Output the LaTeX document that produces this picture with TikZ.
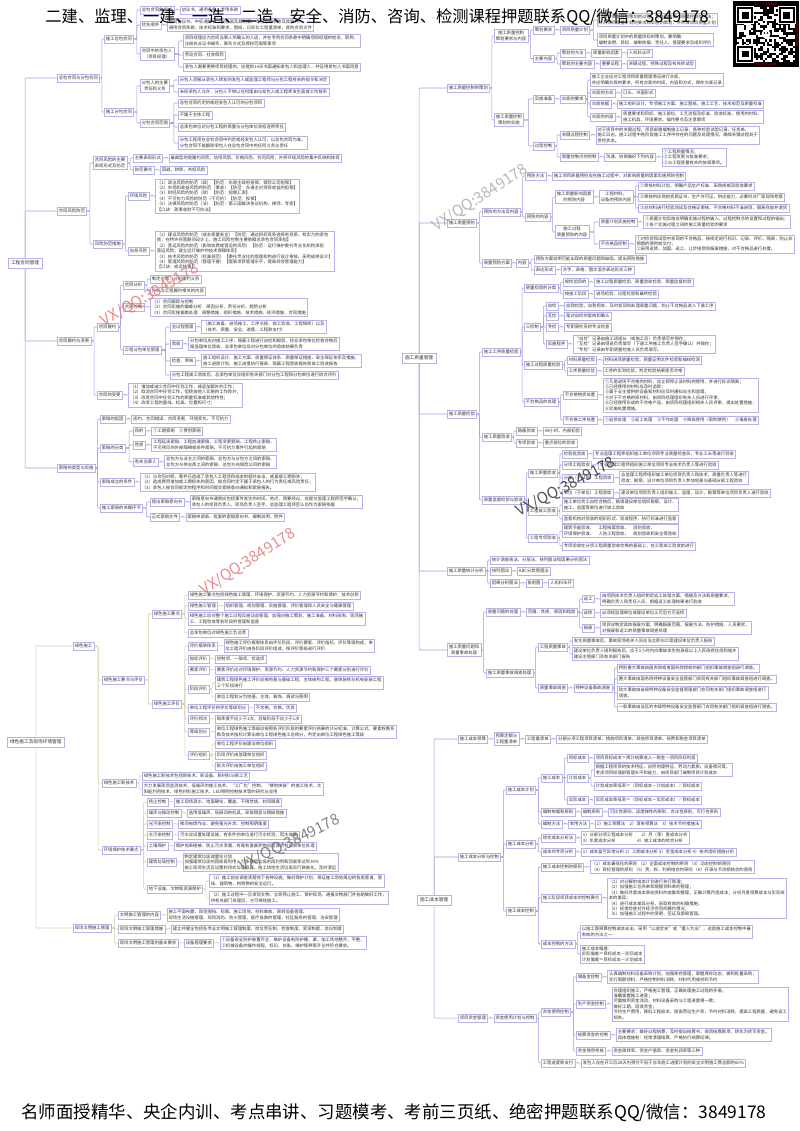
\documentclass[tikz,border=0pt]{standalone}
\usepackage{fontspec}
\usepackage{graphicx}
\setmainfont{Noto Sans CJK SC}
\usetikzlibrary{positioning,calc,backgrounds}
\newdimen\upx \upx=0.3mm
\definecolor{bc}{HTML}{B4B4E8}
\definecolor{lc}{HTML}{9C9CE0}
\definecolor{lg}{HTML}{D9CFA6}
\definecolor{tc}{HTML}{333333}
\definecolor{wred}{HTML}{E07070}
\newcommand\fsz{\fontsize{3.7}{4.6}\selectfont}
\newcommand\lk[3][lnk]{\foreach \kid in {#3}{\coordinate (m) at ($(#2.east)!.5!(\kid.west)$); \draw[#1] (#2.east) -- (#2.east -| m) |- (\kid.west);}}
\newcommand\rk[3][lnk]{\foreach \kid in {#3}{\draw[#1] (#2.center) |- (\kid.west);}}
\tikzset{
 bx/.style={draw=bc, fill=white, line width=0.35pt, inner xsep=1.4pt, inner ysep=1.5pt, font=\fsz, text=tc, align=left, anchor=west},
 lb/.style={bx, align=center},
 rt/.style={bx, inner xsep=2.4pt, inner ysep=2.6pt, font=\fontsize{4}{4.8}\selectfont},
 lnk/.style={draw=lc, line width=0.45pt, rounded corners=0.8pt},
 lnkg/.style={lnk, draw=lg},
 wm/.style={font=\fontsize{13}{13}\selectfont, opacity=0.8, inner sep=0},
}
\begin{document}
\begin{tikzpicture}[x=0.3mm,y=-0.3mm]
\useasboundingbox (0,0) rectangle (800,1131);
%================ Tree A
\node[rt] (A) at (8,263) {工程合同管理};
\node[bx] (A1) at (57,78) {总包合同与分包合同};
\node[bx] (A11) at (104,39) {施工总包合同};
\node[bx] (A111) at (140,10) {总包合同的组成};
\node[bx,right=1.8mm of A111] (A111a) {协议书、通用条款、专用条款};
\node[bx] (A112) at (140,25) {优先顺序};
\node[bx,right=1.8mm of A112] (A112a) {合同协议书、中标通知书、投标函及其附录、专用合同条款及其附件、\\通用合同条款、技术标准和要求、图纸、已标价工程量清单、其他合同文件};
\node[lb] (A113) at (140,54) {合同中的承包人\\（项目经理）};
\node[bx] (A113a) at (183,41) {项目经理应为合同当事人所确认的人选，并在专用合同条款中明确项目经理的姓名、职称、\\注册执业证书编号、联系方式及授权范围等事项};
\node[bx] (A113b) at (183,55) {劳动合同、社会保险};
\node[bx] (A113c) at (183,67) {承包人需要更换项目经理的，应提前14天书面通知发包人和监理人，并征得发包人书面同意};
\node[bx] (A12) at (104,112) {施工分包合同};
\node[lb] (A121) at (140,86) {分包人的主要\\责任和义务};
\node[bx] (A121a) at (178,80) {分包人须服从承包人转发的发包人或监理工程师与分包工程有关的指令和决定};
\node[bx] (A121b) at (178,92) {未经承包人允许，分包人不得以任何理由与发包人或工程师发生直接工作联系};
\node[bx] (A122) at (140,123) {分包合同范围};
\node[bx] (A122a) at (178,103) {总包合同约定的或经发包人认可的分包项目};
\node[bx] (A122b) at (178,115) {不属于主体工程};
\node[bx] (A122c) at (178,127) {总承包单位对分包工程的质量与分包单位承担连带责任};
\node[bx] (A122d) at (178,143) {分包工程须在总包合同中约定或经发包人认可，以总包合同为准，\\分包合同不能解除承包人在总包合同中的任何义务与责任};
\node[bx] (A2) at (57,211) {合同风险防范};
\node[lb] (A21) at (93,163) {合同风险的主要\\表现形式及防范};
\node[bx] (A211) at (133,158) {主要表现形式};
\node[bx,right=1.8mm of A211] (A211a) {最典型的是履约风险、信用风险、价格风险、合同风险，外界环境风险的集中反映和体现};
\node[bx] (A212) at (133,170) {防范要点};
\node[bx,right=1.8mm of A212] (A212a) {回避、转移、共担风险};
\node[bx] (A22) at (93,244) {风险防范措施};
\node[bx] (A221) at (128,196) {环境风险};
\node[bx,right=1.8mm of A221] (A221a) {（1）政治风险的防范（政）【防范：东道主政府担保；保险公司担保】\\（2）市场和收益风险的防范（事收）【防范：东道主对项目收益的担保】\\（3）财经风险的防范（财）【防范：短期汇率】\\（4）不可抗力风险的防范（不可抗）【防范：投保】\\（5）法律风险的防范（法）【防范：第三国解决争议机构、律师、专家】\\【口诀：政事收财不可抗法】};
\node[bx] (A222) at (128,251) {自身风险};
\node[bx,right=1.8mm of A222] (A222a) {（1）建设风险的防范（成本质量安全）【防范：通过招标竞争选择有资质、有实力的承包\\商；在特许经营期间设计上，施工风险控制主要依据总承包合同承担】\\（2）营运风险的防范（影响收费或营运的风险）【防范：运行维护委托专业化机构承担\\营运风险；建立运行维护的技术保障体系】\\（3）技术风险的防范（标准规范）【委托专业化的监理机构进行设计审核、采用成熟设计】\\（4）管理风险的防范（管理不善）【提高项目管理水平，提高综合管理能力】\\【口诀：成运技管】};
\node[bx] (A3) at (57,341) {合同履约与变更};
\node[bx] (A31) at (97,327) {合同履约};
\node[bx] (A311) at (123,285) {合同分析};
\node[bx] (A311a) at (150,279) {制定对策，分析履约义务};
\node[bx] (A311b) at (150,291) {分析与工程履约相关的内容};
\node[bx] (A312) at (123,307) {合同控制};
\node[bx,right=1.8mm of A312] (A312a) {（1）合同跟踪与控制\\（2）合同实施的偏差分析\quad 原因分析、责任分析、趋势分析\\（3）合同实施偏差处理\quad 调整措施、组织措施、技术措施、经济措施、合同措施};
\node[bx] (A313) at (123,350) {工程分包单位管理};
\node[bx] (A3131) at (170,327) {全过程管理};
\node[bx,right=1.8mm of A3131] (A3131a) {（施工准备、进场施工、工序交接、竣工验收、工程保修）以及\\（技术、质量、安全、进度、工程款支付）};
\node[bx] (A3132) at (170,344) {验收};
\node[bx,right=1.8mm of A3132] (A3132a) {分包单位应对施工工序、隐蔽工程进行自检和报验，经总承包单位检查合格后\\报监理单位验收，总承包单位应对分包单位的验收结果负责};
\node[bx] (A3133) at (170,361) {检查、审核};
\node[bx,right=1.8mm of A3133] (A3133a) {施工组织设计、施工方案、质量保证体系、质量保证措施、安全保证体系及措施、\\施工进度计划、施工进度执行报表、隐蔽工程验收报告和竣工验收报告};
\node[bx] (A3134) at (170,375) {分包工程竣工验收后，总承包单位应组织有关部门对分包工程和分包单位进行综合评价};
\node[bx] (A32) at (97,395) {合同的变更};
\node[bx,right=1.8mm of A32] (A32a) {（1）增加或减少合同中任何工作，或追加额外的工作；\\（2）取消合同中任何工作，但转由他人实施的工作除外；\\（3）改变合同中任何工作的质量标准或其他特性；\\（4）改变工程的基线、标高、位置和尺寸；};
\node[bx] (A4) at (57,468) {索赔的类型与实施};
\node[bx] (A41) at (100,419) {索赔的起因};
\node[bx,right=1.8mm of A41] (A41a) {违约、合同错误、合同变更、环境变化、不可抗力};
\node[bx] (A42) at (100,448) {索赔的分类};
\node[bx] (A421) at (133,431) {目的};
\node[bx,right=1.8mm of A421] (A421a) {①工期索赔\quad ②费用索赔};
\node[bx] (A422) at (133,445) {性质};
\node[bx,right=1.8mm of A422] (A422a) {工程延误索赔、工程加速索赔、工程变更索赔、工程终止索赔、\\不可预见的外部障碍或条件索赔、不可抗力事件引起的索赔};
\node[bx] (A423) at (133,462) {有关当事人};
\node[bx,right=1.8mm of A423] (A423a) {总包方与业主之间的索赔、总包方与分包方之间的索赔、\\总包方与供应商之间的索赔、总包方向保险公司的索赔};
\node[bx] (A43) at (100,482) {索赔成立的条件};
\node[bx,right=1.8mm of A43] (A43a) {（1）与合同对照，事件已造成了承包人工程项目成本的额外支出，或直接工期损失；\\（2）造成费用增加或工期损失的原因，按合同约定不属于承包人的行为责任或风险责任；\\（3）承包人按合同规定的程序和时间提交索赔意向通知和索赔报告。};
\node[bx] (A44) at (100,508) {施工索赔的关键环节};
\node[bx] (A441) at (150,502) {提出索赔意向书};
\node[bx,right=1.8mm of A441] (A441a) {索赔意向书通常应包括事件发生的时间、地点、简要经过，应提交监理工程师签字确认，\\承包人的项目负责人、现场负责人签字，总监理工程师签认后作为索赔依据};
\node[bx] (A442) at (150,517) {正式索赔文件};
\node[bx,right=1.8mm of A442] (A442a) {索赔申请表、批复的索赔意向书、编制说明、附件};
%================ Tree B
\node[rt] (B) at (7,742) {绿色施工及现场环境管理};
\node[bx] (B1) at (73,646) {绿色施工};
\node[bx] (B11) at (102,680) {绿色施工要点与评价};
\node[bx] (B111) at (152,614) {绿色施工要点};
\node[bx] (B111a) at (188,595) {绿色施工要点包括绿色施工管理、环境保护、资源节约、人力资源节约和保护、技术创新};
\node[bx] (B111b) at (188,606) {绿色施工管理};
\node[bx,right=1.8mm of B111b] (B111bb) {组织管理、规划管理、实施管理、评价管理和人员安全与健康管理};
\node[bx] (B111c) at (188,619) {绿色施工应对整个施工过程实施动态管理，加强对施工策划、施工准备、材料采购、现场施\\工、工程验收等各阶段的管理和监督};
\node[bx] (B111d) at (188,633) {总承包单位对绿色施工负总责};
\node[bx] (B112) at (152,704) {绿色施工评价};
\node[bx] (B1121) at (188,646) {评价框架体系};
\node[bx,right=1.8mm of B1121] (B1121a) {绿色施工评价框架体系由评价阶段、评价要素、评价指标、评价等级构成，单\\位工程评价由各阶段评价组成，按评价等级进行评价};
\node[bx] (B1122) at (188,659) {指标评价};
\node[bx,right=1.8mm of B1122] (B1122a) {控制项、一般项、优选项};
\node[bx] (B1123) at (188,670) {要素评价};
\node[bx,right=1.8mm of B1123] (B1123a) {要素评价应对环境保护、资源节约、人力资源节约和保护三个要素分别进行评价};
\node[bx] (B1124) at (188,689) {阶段评价};
\node[bx] (B1124a) at (215,683) {建筑工程绿色施工评价应按地基与基础工程、主体结构工程、装饰装修与机电安装工程\\三个阶段进行};
\node[bx] (B1124b) at (215,697) {单位工程划分为地基、主体、装饰、调试与照明};
\node[bx] (B1125) at (188,708) {单位工程评价的评价等级划分};
\node[bx,right=1.8mm of B1125] (B1125a) {不合格、合格、优良};
\node[bx] (B1126) at (188,719) {评价频次};
\node[bx,right=1.8mm of B1126] (B1126a) {每季度不应少于1次，且每阶段不应少于1次};
\node[bx] (B1127) at (188,732) {等级划分};
\node[bx,right=1.8mm of B1127] (B1127a) {单位工程绿色施工等级应按照各评价阶段的要素评价结果的计分标准、计算公式、要素权重系\\数及技术指标计算出单位工程绿色施工总得分，判定出单位工程绿色施工等级};
\node[bx] (B1128) at (188,755) {评价组织};
\node[bx] (B1128a) at (215,744) {单位工程评价由建设单位组织};
\node[bx] (B1128b) at (215,755) {阶段评价由监理单位组织};
\node[bx] (B1128c) at (215,766) {批次评价由施工单位组织};
\node[bx] (B12) at (102,783) {绿色施工新技术};
\node[bx] (B12a) at (142,776) {绿色施工新技术包括新技术、新设备、新材料与新工艺};
\node[bx] (B12b) at (142,789) {大力发展现场监测技术、低噪声的施工技术、“工厂化”控制、“楼地快装”的施工技术、太\\阳能利用技术、绿色材料施工技术、LED照明控制技术等的研究与应用};
\node[bx] (B13) at (102,850) {环境保护技术要点};
\node[bx] (B131) at (147,802) {扬尘控制};
\node[bx,right=1.8mm of B131] (B131a) {施工现场洒水、地面硬化、覆盖、不得焚烧、封闭隔离};
\node[bx] (B132) at (147,813) {噪声与振动控制};
\node[bx,right=1.8mm of B132] (B132a) {选用低噪声、低振动的机具，采取隔音与隔振措施};
\node[bx] (B133) at (147,824) {光污染控制};
\node[bx,right=1.8mm of B133] (B133a) {夜间电焊作业、避免强光外泄、控制照明角度};
\node[bx] (B134) at (147,835) {水污染控制};
\node[bx,right=1.8mm of B134] (B134a) {污水应设置处理设施，有条件的单位进行污水检测、雨水收集};
\node[bx] (B135) at (147,846) {土壤保护};
\node[bx,right=1.8mm of B135] (B135a) {保护地表植被、防止污水渗漏，有毒有害废弃物应回收交有资质单位处理};
\node[bx] (B136) at (147,862) {建筑垃圾控制};
\node[bx,right=1.8mm of B136] (B136a) {制定建筑垃圾减量化计划\\加强建筑垃圾的回收再利用，力争建筑垃圾的再利用和回收率达到30\%\\施工现场生活区设置封闭式垃圾容器，施工场地生活垃圾实行袋装化，及时清运};
\node[bx] (B137) at (147,889) {地下设施、文物和资源保护};
\node[bx] (B137a) at (209,881) {（1）施工前应调查清楚地下各种设施，做好保护计划，保证施工场地周边的各类管道、管\\线、建筑物、构筑物的安全运行。};
\node[bx] (B137b) at (209,898) {（2）施工过程中一旦发现文物，立即停止施工，保护现场，通报文物部门并协助做好工作，\\待有关部门处理后，方可继续施工。};
\node[bx] (B2) at (73,928) {现场文明施工管理};
\node[bx] (B21) at (118,915) {文明施工管理的内容};
\node[bx,right=1.8mm of B21] (B21a) {施工平面布置、现场围挡、标牌、施工场地、材料堆放、周转设备管理、\\现场生活设施管理、现场消防、防火管理、医疗急救的管理、社区服务的管理、治安管理};
\node[bx] (B22) at (118,929) {现场文明施工管理措施};
\node[bx,right=1.8mm of B22] (B22a) {建立并健全包括各专业文明施工管理制度、岗位责任制、检查制度、奖惩制度、会议制度};
\node[bx] (B23) at (118,943) {现场文明施工管理的基本要求};
\node[bx,right=1.8mm of B23] (B231) {设备管理要求};
\node[bx,right=1.8mm of B231] (B231a) {①设备安全防护装置齐全，维护设备有防护棚、罩，加工场地整齐、平整，\\②机械设备的操作规程、标识、台账、维护保养等齐全并符合要求。};
%================ Tree C
\node[rt] (C) at (402,358) {施工质量管理};
\node[bx] (C1) at (447,88) {施工质量控制的策划};
\node[lb] (C11) at (494,36) {施工质量控制\\策划要求与内容};
\node[bx] (C111) at (533,30) {策划要求};
\node[bx,right=1.8mm of C111] (C1111) {项目质量计划};
\node[bx] (C1111a) at (597,20) {①项目质量控制策划的过程、文件和依据，质量控制的方法；\\②对项目质量计划的要求和实施的策划，并形成项目质量计划};
\node[bx] (C1111b) at (597,40) {项目质量计划中的质量目标的策划，要明确：\\编制说明、目标、编制依据、责任人、管理要求及组织评价};
\node[bx] (C112) at (533,58.5) {主要内容};
\node[bx] (C1121) at (560,53) {策划的方法};
\node[bx,right=1.8mm of C1121] (C1121a) {质量影响因素};
\node[bx,right=1.8mm of C1121a] (C1121b) {人机料法环};
\node[bx] (C1122) at (560,64) {策划的主要内容};
\node[bx,right=1.8mm of C1122] (C1122a) {重要过程};
\node[bx,right=1.8mm of C1122a] (C1122b) {关键过程、特殊过程及有关的试验};
\node[lb] (C12) at (494,120) {施工质量控制\\策划的实施};
\node[bx] (C121) at (533,99) {实施准备};
\node[bx,right=1.8mm of C121] (C1211) {交底的要求};
\node[bx] (C1211a) at (590,80) {施工企业应对工程项目质量管理情况进行交底，\\并应明确交底的要求，所有交底的时间、内容和方式，保存交底记录};
\node[bx] (C1211b) at (590,93) {交底的方式};
\node[bx,right=1.8mm of C1211b] (C1211bb) {口头、书面形式};
\node[bx] (C1211c) at (590,104) {交底依据};
\node[bx,right=1.8mm of C1211c] (C1211cc) {施工组织设计、专项施工方案、施工图纸、施工工艺、技术规范及质量标准};
\node[bx] (C1211d) at (590,117) {交底的内容};
\node[bx,right=1.8mm of C1211d] (C1211dd) {质量要求和目标、施工部位、工艺流程及标准、验收标准、使用的材料、\\施工机具、环境要求、操作要点及注意事项};
\node[bx] (C122) at (533,146) {过程控制};
\node[bx] (C1221) at (560,135) {关键过程控制};
\node[bx,right=1.8mm of C1221] (C1221a) {对于项目中的关键过程，项目部需编制施工记录、各种检验试验记录、任务单、\\施工日志，施工过程中各阶段施工工序中存在的问题及处理情况，确保关键过程处于\\受控状态。};
\node[bx] (C1222) at (560,157) {质量控制点的控制};
\node[bx,right=1.8mm of C1222] (C1222a) {沟通、协商做好下列内容};
\node[bx,right=1.8mm of C1222a] (C1222b) {①工程质量情况；\\②工程变更与批准要求；\\③与工程质量有关的协调事项。};
\node[bx] (C2) at (447,223) {施工质量预防};
\node[bx] (C21) at (482,212) {预防的方法及内容};
\node[bx] (C211) at (525,176) {预防方法};
\node[bx,right=1.8mm of C211] (C211a) {施工项目质量预控应在施工过程中，对影响质量的因素实施预防控制};
\node[bx] (C212) at (525,217) {预防的内容};
\node[lb] (C2121) at (555,197) {施工质量影响因素\\的预防内容};
\node[lb] (C21211) at (599,197) {工程材料、\\设备的预防内容};
\node[bx] (C21211a) at (638,186) {①审核材料计划，明确产品生产标准、采购规格及验收要求};
\node[bx] (C21211b) at (638,197) {②审核供应商的资质证书、生产许可证、供应能力，必要时对厂家现场考察};
\node[bx] (C21211c) at (638,208) {③对材料进行检验测试及合格证审核，不合格材料不准进场，隔离存放并退货};
\node[lb] (C2122) at (555,232) {施工过程\\质量预防的内容};
\node[bx] (C21221) at (599,222) {质量计划实施控制};
\node[bx,right=1.8mm of C21221] (C21221a) {①质量计划实施应明确实施过程的输入、过程控制点的设置和过程的输出；\\②各个实施过程之间的施工质量检验的要求};
\node[bx] (C21222) at (599,244) {不合格品控制};
\node[bx,right=1.8mm of C21222] (C21222a) {①对检验和试验中发现的不合格品，按规定进行标识、记录、评价、隔离，防止非\\预期的使用或交付；\\②采用返修、加固、返工、让步接受和报废措施，对不合格品进行处置。};
\node[bx] (C22) at (482,263) {质量预防方案};
\node[bx] (C221) at (516,263) {内容};
\node[bx] (C221a) at (534,259) {预防方案说明可能出现的质量问题和缺陷，提出预防措施};
\node[bx] (C221b) at (534,270) {表达形式};
\node[bx,right=1.8mm of C221b] (C221bb) {文字、表格、图文混合表达形式三种};
\node[bx] (C3) at (447,414) {施工质量检验};
\node[bx] (C31) at (482,352) {施工工序质量检验};
\node[bx] (C311) at (524,288) {质量检验的分类};
\node[bx] (C3111) at (563,282) {按检验目的};
\node[bx,right=1.8mm of C3111] (C3111a) {施工过程质量检验、质量验收检验、质量监督检验};
\node[bx] (C3112) at (563,294) {按施工阶段};
\node[bx,right=1.8mm of C3112] (C3112a) {进场检验、过程检验和最终检验};
\node[bx] (C312) at (524,327) {三检制};
\node[bx] (C3121) at (546,306) {自检};
\node[bx,right=1.8mm of C3121] (C3121a) {自我检验、自我把关，及时发现和处理质量问题，防止不合格品进入下道工序};
\node[bx] (C3122) at (546,316) {互检};
\node[bx,right=1.8mm of C3122] (C3122a) {是对自检的复核和确认};
\node[bx] (C3123) at (546,327) {专检};
\node[bx,right=1.8mm of C3123] (C3123a) {专职质检员的专业检查};
\node[bx] (C3124) at (546,344) {实施程序};
\node[bx,right=1.8mm of C3124] (C3124a) {“自检”记录由施工班组长（或施工员）负责填写并保存；\\“互检”记录由领班负责填写（下道工序施工负责人签字确认）并保存；\\“专检”记录由专职质量检查人员负责填写。};
\node[bx] (C313) at (524,365) {施工过程质量检验};
\node[bx] (C3131) at (567,360) {材料质量检验};
\node[bx,right=1.8mm of C3131] (C3131a) {材料进场质量检验，质量证明文件检验和抽样检测};
\node[bx] (C3132) at (567,371) {工序质量检验};
\node[bx,right=1.8mm of C3132] (C3132a) {工序的实测检验，判定检验结果是否合格};
\node[bx] (C314) at (524,402) {不合格品的处理};
\node[bx] (C3141) at (563,395) {不合格物资处置};
\node[bx,right=1.8mm of C3141] (C3141a) {①凡是进场不合格的材料，应立即停止该材料的使用，并进行标识隔离；\\②已经使用的材料应及时追踪；\\③属于业主提供的设备和材料应及时通知业主和监理；\\④对于不合格的原材料，由项目经理组织有关人员进行评审；\\⑤已经使用形成的不合格产品，由项目经理组织相关人员评审，提出处置措施；\\⑥实施处置措施。};
\node[bx] (C3142) at (563,420) {不合格工序处置};
\node[bx,right=1.8mm of C3142] (C3142a) {①返修处理\quad ②返工处理\quad ③不作处理\quad ④降级使用（限制使用）\quad ⑤报废处理};
\node[bx] (C32) at (482,437) {施工质量验收};
\node[bx] (C321) at (516,431) {隐蔽验收};
\node[bx,right=1.8mm of C321] (C321a) {48小时、内部初验};
\node[bx] (C322) at (516,443) {专项验收};
\node[bx,right=1.8mm of C322] (C322a) {重点部位的验收};
\node[bx] (C33) at (482,500) {质量监督检验与验收};
\node[bx] (C331) at (528,473) {施工质量验收};
\node[bx] (C3311) at (562,454) {检验批验收};
\node[bx,right=1.8mm of C3311] (C3311a) {专业监理工程师组织施工单位项目专业质量检查员、专业工长等进行验收};
\node[bx] (C3312) at (562,465) {分项工程验收};
\node[bx,right=1.8mm of C3312] (C3312a) {专业监理工程师组织施工单位项目专业技术负责人等进行验收};
\node[bx] (C3313) at (562,478) {分部（子分部）工程验收};
\node[bx,right=1.8mm of C3313] (C3313a) {总监理工程师组织施工单位项目负责人和技术、质量负责人等进行\\验收；勘察、设计单位项目负责人参加地基与基础分部工程验收};
\node[bx] (C3314) at (562,493) {单位（子单位）工程验收};
\node[bx,right=1.8mm of C3314] (C3314a) {建设单位项目负责人组织施工、监理、设计、勘察等单位项目负责人进行验收};
\node[bx] (C332) at (528,511) {工程竣工验收};
\node[bx] (C332a) at (562,505) {施工单位完工自检合格后，报请建设单位组织勘察、设计、\\施工、监理等单位进行竣工验收};
\node[bx] (C332b) at (562,519) {监督机构对验收的组织形式、验收程序、执行标准进行监督};
\node[bx] (C333) at (528,538) {工程专项验收};
\node[bx] (C333a) at (562,531) {建筑节能验收、\quad 工程档案验收、\quad 消防验收、\\环境保护验收、\quad 人防工程验收、\quad 规划验收和安全等验收};
\node[bx] (C333b) at (562,546) {专项验收在分项工程质量验收合格的基础上，在工程竣工验收前进行};
\node[bx] (C4) at (447,571) {施工质量统计分析};
\node[bx] (C41) at (490,560) {统计调查表法、分层法、排列图法和因果分析图法};
\node[bx] (C42) at (490,571) {排列图法};
\node[bx,right=1.8mm of C42] (C42a) {ABC分类管理法};
\node[bx] (C43) at (490,583) {因果分析图法};
\node[bx,right=1.8mm of C43] (C43a) {鱼刺图};
\node[bx,right=1.8mm of C43a] (C43b) {人机料法环};
\node[lb] (C5) at (447,650) {施工质量问题和\\质量事故处理};
\node[bx] (C51) at (486,612) {质量问题的处理};
\node[bx,right=1.8mm of C51] (C51a) {范围、性质、原因和程度};
\node[bx] (C511) at (582,599) {返工};
\node[bx,right=1.8mm of C511] (C511a) {由项目技术负责人组织制定返工处理方案、措施及方法和质量要求，\\明确负责人和责任人员，根据返工处理结果进行验收};
\node[bx] (C512) at (582,613) {返修};
\node[bx,right=1.8mm of C512] (C512a) {必须经监理单位或建设单位认可后方可返修};
\node[bx] (C513) at (582,628) {报废};
\node[bx,right=1.8mm of C513] (C513a) {项目应制定具体报废方案，明确报废范围、报废方法、防护措施、人员要求，\\对报废和返工的质量事故调查处理};
\node[bx] (C52) at (486,673) {施工质量事故调查处理};
\node[bx] (C521) at (538,647) {工程质量事故};
\node[bx] (C521a) at (572,641) {发生质量事故后，事故现场有关人员应当立即向工程建设单位负责人报告};
\node[bx] (C521b) at (572,654) {建设单位负责人接到报告后，应于1小时内向事故发生地县级以上人民政府住房和城乡\\建设主管部门及有关部门报告};
\node[bx] (C522) at (538,688) {质量事故调查};
\node[bx,right=1.8mm of C522] (C522a) {特种设备事故调查};
\node[bx] (C522b1) at (617,668) {特别重大事故由国务院或者国务院授权的部门组织事故调查组进行调查。};
\node[bx] (C522b2) at (617,679) {重大事故由国务院特种设备安全监管部门会同有关部门组织事故调查组进行调查。};
\node[bx] (C522b3) at (617,693) {较大事故由省级特种设备安全监督管理部门会同有关部门组织事故调查组进行\\调查。};
\node[bx] (C522b4) at (617,707) {一般事故由设区的市级特种设备安全监管部门会同有关部门组织调查组进行调查。};
%================ Tree D
\node[rt] (D) at (417,900) {施工成本管理};
\node[bx] (D1) at (458,739) {施工成本预算};
\node[lb,right=1.8mm of D1] (D11) {预算定额与\\工程量清单};
\node[bx,right=1.8mm of D11] (D111) {工程量清单};
\node[bx,right=1.8mm of D111] (D111a) {分部分项工程项目清单、措施项目清单、其他项目清单、规费和税金项目清单};
\node[bx] (D2) at (458,857) {施工成本分析与控制};
\node[bx] (D21) at (506,790) {施工成本计划};
\node[bx] (D211) at (541,778) {施工成本};
\node[bx] (D2111) at (567,758) {目标成本};
\node[bx,right=1.8mm of D2111] (D2111a) {项目目标成本＝预计结算收入－税金－项目目标利润};
\node[bx] (D2112) at (567,778) {计划成本};
\node[bx] (D2112a) at (594,770) {根据工程项目的技术特征、自然地理特征、劳动力素质、设备情况等，\\考虑项目经理部管理水平和能力，由项目部门编制项目计划成本};
\node[bx] (D2112b) at (594,786) {计划成本降低率＝（目标成本－计划成本）／目标成本};
\node[bx] (D2113) at (567,800) {实际成本};
\node[bx,right=1.8mm of D2113] (D2113a) {实际成本降低率＝（目标成本－实际成本）／目标成本};
\node[bx] (D212) at (541,812) {编制依据和原则};
\node[bx,right=1.8mm of D212] (D212a) {编制原则};
\node[bx,right=1.8mm of D212a] (D212b) {可比性原则、适度弹性的原则、合法性原则、可行性原则};
\node[bx] (D213) at (541,824) {编制方法};
\node[bx,right=1.8mm of D213] (D213a) {常用方法};
\node[bx,right=1.8mm of D213a] (D213b) {1）施工预算法\quad 2）清单预算法\quad 3）技术节约措施法};
\node[bx] (D22) at (506,844) {施工成本分析};
\node[bx] (D221) at (541,838) {综合成本分析法};
\node[bx,right=1.8mm of D221] (D221a) {1）分部分项工程成本分析\qquad 2）月（季）度成本分析\\3）年度成本分析\qquad\qquad\quad 4）竣工成本的综合分析};
\node[bx] (D222) at (541,852) {成本的专项分析};
\node[bx,right=1.8mm of D222] (D222a) {1）成本盈亏异常分析\ 2）工期成本分析\ 3）资金成本分析\ 4）技术组织措施分析};
\node[bx] (D23) at (506,911) {施工成本控制};
\node[bx] (D231) at (541,867) {施工成本控制的原则};
\node[bx,right=1.8mm of D231] (D231a) {（1）成本最低化的原则\ （2）全面成本控制的原则\ （3）动态控制的原则\\（4）目标管理的原则\ （5）责、权、利相结合的原则\ （6）开源与节流相结合的原则};
\node[bx] (D232) at (541,898) {施工阶段项目成本的控制要点};
\node[bx,right=1.8mm of D232] (D232a) {（1）对分解的成本计划进行执行管理；\\（2）加强施工任务单和限额领料单的管理；\\（3）做好月度成本原始资料的收集和整理，正确计算月度成本，分析月度预算成本与实际成\\本的差异；\\（4）进行成本差异分析，采取有效的纠偏措施；\\（5）经常检查对外经济合同的履约情况；\\（6）加强施工过程中的变更、签证及索赔管理。};
\node[bx] (D233) at (541,944) {成本控制的方法};
\node[bx] (D233a) at (580,932) {以施工图预算控制成本支出，采用“以收定支”或“量入为出”，这是施工成本控制中最\\有效的方法之一};
\node[bx] (D233b) at (580,954) {施工成本偏差：\\实际偏差＝目标成本－实际成本\\计划偏差＝目标成本－计划成本};
\node[bx] (D3) at (458,1018) {项目资金管理};
\node[bx,right=1.8mm of D3] (D31) {资金使用计划与控制};
\node[bx] (D311) at (541,1012) {资金使用控制};
\node[bx] (D3111) at (576,977) {储备金控制};
\node[bx,right=1.8mm of D3111] (D3111a) {认真编制材料设备采购计划，加强库存管理，掌握库存动态，做到批量采购；\\实行限额领料，严格控制材料消耗，材料代用或材料节约};
\node[bx] (D3112) at (576,1004) {生产资金控制};
\node[bx,right=1.8mm of D3112] (D3112a) {合理组织施工，严格施工管理，正确处理施工过程的矛盾，\\准确掌握施工进度；\\尽量做到资金流动，材料设备采购与工程进度相一致；\\做好工期，回收资金；\\节约生产费用，降低工程成本，提高劳动生产率，节约材料消耗，提高工程质量，避免返工\\损失。};
\node[bx] (D3113) at (576,1035) {结算资金的控制};
\node[bx,right=1.8mm of D3113] (D3113a) {主要要求：做好过程结算，及时提出结算书，收回结算款项，转化为货币资金。\\具体措施有：经常清理结算，严格执行结算纪律。};
\node[bx] (D3114) at (576,1051) {资金使用考核};
\node[bx,right=1.8mm of D3114] (D3114a) {资金周转率、资金产值率、资金利润率等三种};
\node[bx] (D312) at (541,1063) {工程进度款支付};
\node[bx,right=1.8mm of D312] (D312a) {发包人应在开工后28天内预付不低于当年施工进度计划的安全文明施工费总额的60\%};
%================ connectors
\begin{scope}[on background layer]
\fill[white] (0,0) rectangle (800,1131);
% A
\rk{A}{A1,A2,A3,A4}
\lk{A1}{A11,A12}
\lk{A11}{A111,A112,A113}
\lk{A111}{A111a} \lk{A112}{A112a}
\lk{A113}{A113a,A113b,A113c}
\lk{A12}{A121,A122}
\lk{A121}{A121a,A121b}
\lk{A122}{A122a,A122b,A122c,A122d}
\lk{A2}{A21,A22}
\lk{A21}{A211,A212}
\lk{A211}{A211a} \lk{A212}{A212a}
\lk{A22}{A221,A222}
\lk{A221}{A221a} \lk{A222}{A222a}
\lk{A3}{A31,A32}
\lk{A31}{A311,A312,A313}
\lk{A311}{A311a,A311b}
\lk{A312}{A312a}
\lk{A313}{A3131,A3132,A3133,A3134}
\lk{A3131}{A3131a} \lk{A3132}{A3132a} \lk{A3133}{A3133a}
\lk{A32}{A32a}
\lk{A4}{A41,A42,A43,A44}
\lk{A41}{A41a}
\lk{A42}{A421,A422,A423}
\lk{A421}{A421a} \lk{A422}{A422a} \lk{A423}{A423a}
\lk{A43}{A43a}
\lk{A44}{A441,A442}
\lk{A441}{A441a} \lk{A442}{A442a}
% B
\rk[lnkg]{B}{B1,B2}
\lk[lnkg]{B1}{B11,B12,B13}
\lk[lnkg]{B11}{B111,B112}
\lk[lnkg]{B111}{B111a,B111b,B111c,B111d}
\lk[lnkg]{B111b}{B111bb}
\lk[lnkg]{B112}{B1121,B1122,B1123,B1124,B1125,B1126,B1127,B1128}
\lk[lnkg]{B1121}{B1121a} \lk[lnkg]{B1122}{B1122a} \lk[lnkg]{B1123}{B1123a}
\lk[lnkg]{B1124}{B1124a,B1124b}
\lk[lnkg]{B1125}{B1125a} \lk[lnkg]{B1126}{B1126a} \lk[lnkg]{B1127}{B1127a}
\lk[lnkg]{B1128}{B1128a,B1128b,B1128c}
\lk[lnkg]{B12}{B12a,B12b}
\lk[lnkg]{B13}{B131,B132,B133,B134,B135,B136,B137}
\lk[lnkg]{B131}{B131a} \lk[lnkg]{B132}{B132a} \lk[lnkg]{B133}{B133a} \lk[lnkg]{B134}{B134a} \lk[lnkg]{B135}{B135a} \lk[lnkg]{B136}{B136a}
\lk[lnkg]{B137}{B137a,B137b}
\lk[lnkg]{B2}{B21,B22,B23}
\lk[lnkg]{B21}{B21a} \lk[lnkg]{B22}{B22a} \lk[lnkg]{B23}{B231} \lk[lnkg]{B231}{B231a}
% C
\rk{C}{C1,C2,C3,C4,C5}
\lk{C1}{C11,C12}
\lk{C11}{C111,C112}
\lk{C111}{C1111} \lk{C1111}{C1111a,C1111b}
\lk{C112}{C1121,C1122}
\lk{C1121}{C1121a} \lk{C1121a}{C1121b}
\lk{C1122}{C1122a} \lk{C1122a}{C1122b}
\lk{C12}{C121,C122}
\lk{C121}{C1211} \lk{C1211}{C1211a,C1211b,C1211c,C1211d}
\lk{C1211b}{C1211bb} \lk{C1211c}{C1211cc} \lk{C1211d}{C1211dd}
\lk{C122}{C1221,C1222}
\lk{C1221}{C1221a} \lk{C1222}{C1222a} \lk{C1222a}{C1222b}
\lk{C2}{C21,C22}
\lk{C21}{C211,C212}
\lk{C211}{C211a}
\lk{C212}{C2121,C2122}
\lk{C2121}{C21211} \lk{C21211}{C21211a,C21211b,C21211c}
\lk{C2122}{C21221,C21222}
\lk{C21221}{C21221a} \lk{C21222}{C21222a}
\lk{C22}{C221} \lk{C221}{C221a,C221b} \lk{C221b}{C221bb}
\lk{C3}{C31,C32,C33}
\lk{C31}{C311,C312,C313,C314}
\lk{C311}{C3111,C3112} \lk{C3111}{C3111a} \lk{C3112}{C3112a}
\lk{C312}{C3121,C3122,C3123,C3124}
\lk{C3121}{C3121a} \lk{C3122}{C3122a} \lk{C3123}{C3123a} \lk{C3124}{C3124a}
\lk{C313}{C3131,C3132} \lk{C3131}{C3131a} \lk{C3132}{C3132a}
\lk{C314}{C3141,C3142} \lk{C3141}{C3141a} \lk{C3142}{C3142a}
\lk{C32}{C321,C322} \lk{C321}{C321a} \lk{C322}{C322a}
\lk{C33}{C331,C332,C333}
\lk{C331}{C3311,C3312,C3313,C3314}
\lk{C3311}{C3311a} \lk{C3312}{C3312a} \lk{C3313}{C3313a} \lk{C3314}{C3314a}
\lk{C332}{C332a,C332b}
\lk{C333}{C333a,C333b}
\lk{C4}{C41,C42,C43} \lk{C42}{C42a} \lk{C43}{C43a} \lk{C43a}{C43b}
\lk{C5}{C51,C52}
\lk{C51}{C51a} \lk{C51a}{C511,C512,C513}
\lk{C511}{C511a} \lk{C512}{C512a} \lk{C513}{C513a}
\lk{C52}{C521,C522}
\lk{C521}{C521a,C521b}
\lk{C522}{C522a} \lk{C522a}{C522b1,C522b2,C522b3,C522b4}
% D
\rk{D}{D1,D2,D3}
\lk{D1}{D11} \lk{D11}{D111} \lk{D111}{D111a}
\lk{D2}{D21,D22,D23}
\lk{D21}{D211,D212,D213}
\lk{D211}{D2111,D2112,D2113}
\lk{D2111}{D2111a} \lk{D2112}{D2112a,D2112b} \lk{D2113}{D2113a}
\lk{D212}{D212a} \lk{D212a}{D212b}
\lk{D213}{D213a} \lk{D213a}{D213b}
\lk{D22}{D221,D222} \lk{D221}{D221a} \lk{D222}{D222a}
\lk{D23}{D231,D232,D233} \lk{D231}{D231a} \lk{D232}{D232a}
\lk{D233}{D233a,D233b}
\lk{D3}{D31} \lk{D31}{D311,D312}
\lk{D311}{D3111,D3112,D3113,D3114}
\lk{D3111}{D3111a} \lk{D3112}{D3112a} \lk{D3113}{D3113a} \lk{D3114}{D3114a}
\lk{D312}{D312a}
\end{scope}
%================ watermarks
\node[wm, text=wred, rotate=30] (W1) at (150,295) {VX/QQ:3849178};
\node[wm, text=black!35, rotate=33] (W2) at (480,198) {VX/QQ:3849178};
\node[wm, text=wred, rotate=33] (W3) at (248,562) {VX/QQ:3849178};
\node[wm, text=black!85, rotate=28] (W4) at (566,487) {VX/QQ:3849178};
\node[wm, text=black!60, rotate=26] (W5) at (290,843) {VX/QQ:3849178};
%================ QR code
\fill[black] (733,1) rectangle (799,67);
\fill[white] (737,7) rectangle (795,62);
\pgfmathsetseed{4}
\foreach \i in {0,...,24}{\foreach \j in {0,...,23}{\pgfmathtruncatemacro\qb{rnd<0.5?1:0}\ifnum\qb=1 \fill[black] ({737+\i*2.32},{7+\j*2.3}) rectangle ++(2.32,2.3);\fi}}
\foreach \fx/\fy in {737/7,778.8/7,737/45.9}{\fill[white] ({\fx-1.2},{\fy-1.2}) rectangle ++(18.6,18.5); \fill[black] (\fx,\fy) rectangle ++(16.2,16.1); \fill[white] ({\fx+2.3},{\fy+2.3}) rectangle ++(11.6,11.5); \fill[black] ({\fx+4.6},{\fy+4.6}) rectangle ++(7,6.9);}
\fill[white] (766,34) circle (4.5);
\fill[black] (764.5,33) circle (0.8); \fill[black] (767.5,33) circle (0.8);
\node[text=red!85!black, font=\fontsize{2.6}{3}\selectfont, inner sep=0] (Q1) at (766,4) {扫一扫 添加微信};
\node[text=red!85!black, font=\fontsize{2.6}{3}\selectfont, inner sep=0] (Q2) at (766,64.7) {长按识别二维码};
\node[text=red!85!black, font=\fontsize{2.6}{3}\selectfont, inner sep=0, rotate=-90] (Q3) at (797,34) {资料领取 考试押题};
%================ header / footer
\node[inner sep=0, text=black] (H) at (377,17) {\resizebox{663\upx}{!}{\fontsize{14}{14}\selectfont 二建、监理、一建、一造、二造、安全、消防、咨询、检测课程押题联系QQ/微信：3849178}};
\node[inner sep=0, text=black] (F) at (394,1113) {\resizebox{745\upx}{!}{\fontsize{14}{14}\selectfont 名师面授精华、央企内训、考点串讲、习题模考、考前三页纸、绝密押题联系QQ/微信：3849178}};
\end{tikzpicture}
\end{document}
